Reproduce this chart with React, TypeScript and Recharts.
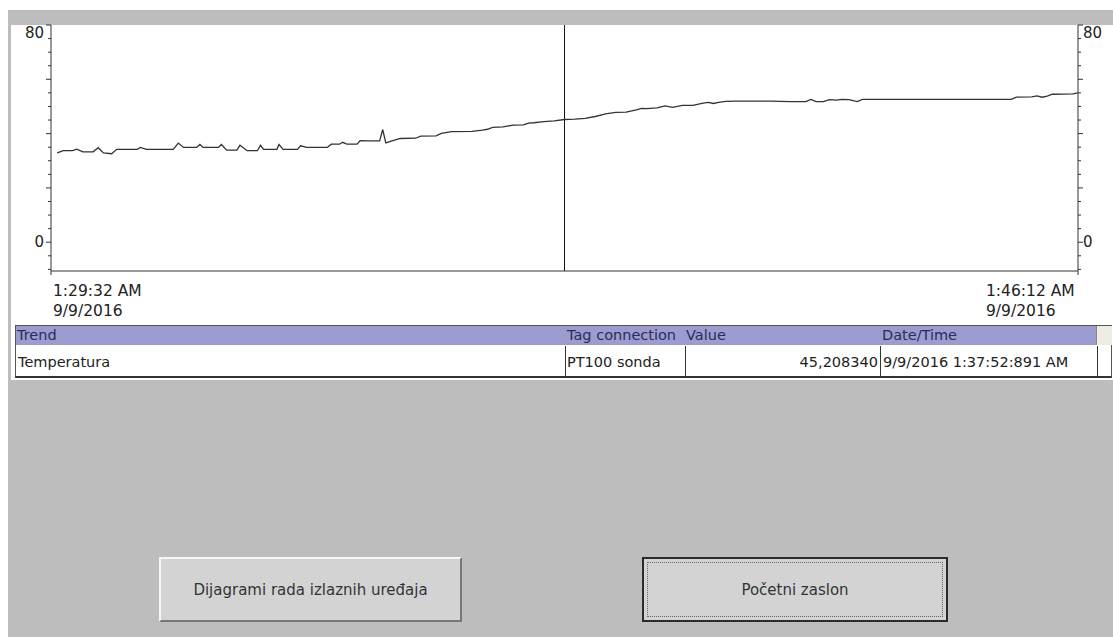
import React from 'react';
import { LineChart, Line, XAxis, YAxis, ReferenceLine } from 'recharts';

// seconds after 1:29:32 AM
const secondsFromStart = [
  6, 12, 21, 25, 31, 41, 46, 51, 59, 64, 84, 87, 93, 119, 124, 129, 142, 145, 148, 163,
  166, 171, 181, 184, 191, 201, 204, 207, 220, 222, 226, 240, 243, 249, 269, 273, 281, 284,
  288, 298, 301, 308, 320, 323, 326, 332, 340, 355, 360, 375, 380, 390, 410, 420, 425, 430,
  440, 450, 460, 465, 470, 480, 490, 500, 510, 520, 530, 540, 550, 560, 570, 575, 580, 590,
  598, 605, 615, 625, 635, 640, 645, 650, 657, 665, 700, 720, 735, 740, 745, 752, 758, 765,
  770, 777, 785, 790, 800, 850, 900, 935, 940, 955, 960, 965, 970, 975, 995, 1000,
];
const temperature = [
  32.9, 33.7, 33.7, 34.3, 33.3, 33.3, 34.8, 32.9, 32.6, 34.2, 34.2, 34.9, 34.2, 34.2, 36.5, 34.9, 34.9, 36.0, 34.9, 34.9,
  36.0, 33.9, 33.9, 35.7, 33.7, 33.7, 35.7, 34.2, 34.2, 36.0, 34.2, 34.2, 35.5, 34.9, 34.9, 36.1, 36.1, 36.8,
  36.1, 36.1, 37.4, 37.3, 37.3, 41.5, 36.6, 37.3, 38.2, 38.3, 39.1, 39.2, 40.1, 40.7, 40.8, 41.3, 41.6, 42.3,
  42.5, 43.1, 43.2, 43.9, 44.0, 44.4, 44.7, 45.2, 45.3, 45.6, 46.3, 47.3, 47.8, 47.9, 48.7, 49.3, 49.2, 49.5,
  50.2, 49.7, 50.4, 50.4, 51.2, 51.5, 51.1, 51.5, 51.9, 52.0, 52.0, 51.8, 51.8, 52.6, 51.8, 51.8, 52.5, 52.3,
  52.6, 52.5, 51.8, 52.6, 52.6, 52.6, 52.6, 52.6, 53.4, 53.5, 53.9, 53.4, 53.8, 54.5, 54.6, 55.0,
];

const xTicks = [0, 1000];
const timeLabels = ['1:29:32 AM', '1:46:12 AM'];
const dateLabels = ['9/9/2016', '9/9/2016'];
const yTicks = [-10, -5, 0, 5, 10, 15, 20, 25, 30, 35, 40, 45, 50, 55, 60, 65, 70, 75, 80];
const yLabels = [0, 80];
const cursorTime = 500;

const tableHeader = ['Trend', 'Tag connection', 'Value', 'Date/Time'];
const tableRow = ['Temperatura', 'PT100 sonda', '45,208340', '9/9/2016 1:37:52:891 AM'];

const font = '"DejaVu Sans", Verdana, sans-serif';
const axisColor = '#333';

const LeftTick = (props: any) => {
  const { x, y, payload } = props;
  const v = payload.value;
  const len = v % 20 === 0 ? 5 : 3;
  return (
    <g>
      <line x1={x - len} x2={x} y1={y} y2={y} stroke={axisColor} />
      {yLabels.includes(v) && (
        <text x={x - 7} y={y + (v === 80 ? 13 : 5)} textAnchor="end" fontSize={15} fill="#222" fontFamily={font}>
          {v}
        </text>
      )}
    </g>
  );
};

const RightTick = (props: any) => {
  const { x, y, payload } = props;
  const v = payload.value;
  const len = v % 20 === 0 ? 5 : 3;
  return (
    <g>
      <line x1={x} x2={x + len} y1={y} y2={y} stroke={axisColor} />
      {yLabels.includes(v) && (
        <text x={x + 5} y={y + (v === 80 ? 13 : 5)} textAnchor="start" fontSize={15} fill="#222" fontFamily={font}>
          {v}
        </text>
      )}
    </g>
  );
};

const TimeTick = (props: any) => {
  const { x, y, index } = props;
  const left = index === 0 ? x + 2 : x - 92;
  return (
    <g>
      <line x1={x} x2={x} y1={y} y2={y + 4} stroke={axisColor} />
      <text x={left} y={y + 25} fontSize={15.5} fill="#222" fontFamily={font}>{timeLabels[index]}</text>
      <text x={left} y={y + 45} fontSize={15.5} fill="#222" fontFamily={font}>{dateLabels[index]}</text>
    </g>
  );
};

const abs = (left: number, top: number, extra: React.CSSProperties = {}): React.CSSProperties => ({
  position: 'absolute',
  left,
  top,
  whiteSpace: 'nowrap',
  ...extra,
});

export default function App() {
  const data = secondsFromStart.map((t, i) => ({ t, value: temperature[i] }));
  const headerX = [17, 567, 686, 882];
  const rowBorders = [565, 685, 880, 1097];

  return (
    <div
      style={{
        position: 'fixed',
        left: 0,
        top: 0,
        width: 1113,
        height: 637,
        background: '#fff',
        fontFamily: font,
        overflow: 'hidden',
      }}
    >
      <div style={abs(8, 10, { right: 0, bottom: 0, background: '#bdbdbd' })} />
      <div style={abs(11, 25, { width: 1102, height: 355, background: '#fff' })} />

      <div style={abs(0, 0)}>
        <LineChart width={1113} height={320} data={data} margin={{ top: 25, right: 0, bottom: 0, left: 11 }}>
          <XAxis
            dataKey="t"
            type="number"
            domain={[0, 1000]}
            ticks={xTicks}
            height={49}
            tickSize={0}
            tickMargin={0}
            tickLine={false}
            axisLine={{ stroke: axisColor }}
            tick={TimeTick}
            interval={0}
            allowDataOverflow
          />
          <YAxis
            yAxisId="left"
            orientation="left"
            width={40}
            domain={[-10.6, 80]}
            ticks={yTicks}
            interval={0}
            tickSize={0}
            tickMargin={0}
            tickLine={false}
            axisLine={{ stroke: axisColor }}
            tick={LeftTick}
            allowDataOverflow
          />
          <YAxis
            yAxisId="right"
            orientation="right"
            width={35}
            domain={[-10.6, 80]}
            ticks={yTicks}
            interval={0}
            tickSize={0}
            tickMargin={0}
            tickLine={false}
            axisLine={{ stroke: axisColor }}
            tick={RightTick}
            allowDataOverflow
          />
          <ReferenceLine yAxisId="left" x={cursorTime} stroke="#111" strokeWidth={1} />
          <Line
            yAxisId="left"
            dataKey="value"
            type="linear"
            stroke="#333"
            strokeWidth={1.3}
            dot={false}
            activeDot={false}
            isAnimationActive={false}
          />
        </LineChart>
      </div>

      {/* trend table */}
      <div
        style={abs(15, 325, {
          width: 1097,
          height: 53,
          boxSizing: 'border-box',
          border: '1px solid #555',
          borderBottom: '2px solid #333',
          background: '#fff',
        })}
      />
      <div style={abs(16, 326, { width: 1080, height: 19, background: '#9c9cd0' })} />
      <div style={abs(1096, 326, { width: 15, height: 19, background: '#ecece4', borderLeft: '1px solid #888' })} />
      {tableHeader.map((h, i) => (
        <div key={h} style={abs(headerX[i], 327, { fontSize: 14.5, lineHeight: '17px', color: '#2b2b5a' })}>
          {h}
        </div>
      ))}
      {rowBorders.map((bx) => (
        <div key={bx} style={abs(bx, 346, { width: 1, height: 30, background: '#333' })} />
      ))}
      <div style={abs(18, 353, { fontSize: 14.5, lineHeight: '18px', color: '#222' })}>{tableRow[0]}</div>
      <div style={abs(567, 353, { fontSize: 14.5, lineHeight: '18px', color: '#222' })}>{tableRow[1]}</div>
      <div style={abs(686, 353, { width: 192, textAlign: 'right', fontSize: 14.5, lineHeight: '18px', color: '#222' })}>
        {tableRow[2]}
      </div>
      <div style={abs(883, 353, { fontSize: 14.5, lineHeight: '18px', color: '#222' })}>{tableRow[3]}</div>

      {/* buttons */}
      <div
        style={abs(159, 557, {
          width: 303,
          height: 65,
          boxSizing: 'border-box',
          background: '#d3d3d3',
          borderTop: '2px solid #f6f6f6',
          borderLeft: '2px solid #f6f6f6',
          borderBottom: '2px solid #777',
          borderRight: '2px solid #777',
          display: 'flex',
          alignItems: 'center',
          justifyContent: 'center',
          fontSize: 15,
          color: '#333',
        })}
      >
        Dijagrami rada izlaznih uređaja
      </div>
      <div
        style={abs(642, 557, {
          width: 306,
          height: 65,
          boxSizing: 'border-box',
          background: '#d3d3d3',
          border: '2px solid #2a2a2a',
          display: 'flex',
          alignItems: 'center',
          justifyContent: 'center',
          fontSize: 15,
          color: '#333',
        })}
      >
        <div
          style={{
            position: 'absolute',
            left: 3,
            top: 3,
            right: 3,
            bottom: 3,
            border: '1px dotted #666',
          }}
        />
        Početni zaslon
      </div>
    </div>
  );
}
